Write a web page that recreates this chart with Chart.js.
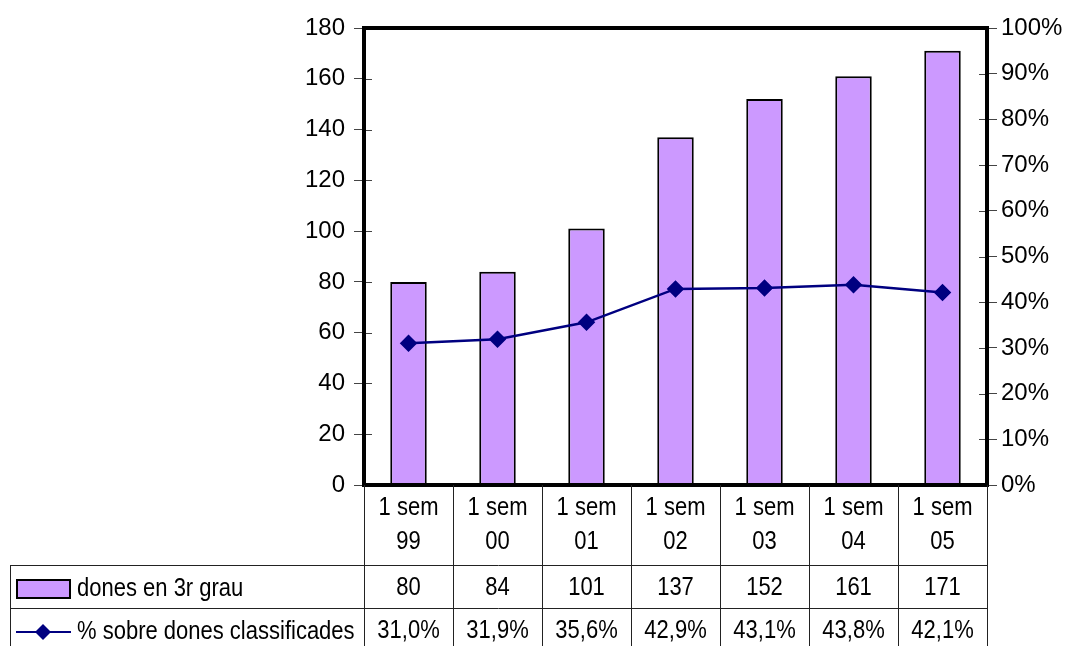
<!DOCTYPE html>
<html>
<head>
<meta charset="utf-8">
<script src="https://cdn.jsdelivr.net/npm/chart.js@4"></script>
<style>
  body { margin: 0; background: #fff; }
</style>
</head>
<body>
<canvas id="chart" width="1065" height="646"></canvas>
<script>
// chart data
const categories = [['1 sem', '99'], ['1 sem', '00'], ['1 sem', '01'], ['1 sem', '02'], ['1 sem', '03'], ['1 sem', '04'], ['1 sem', '05']];
const donesValues = [80, 84, 101, 137, 152, 161, 171];
const percentValues = [31.0, 31.9, 35.6, 42.9, 43.1, 43.8, 42.1];
const seriesNames = ['dones en 3r grau', '% sobre dones classificades'];

const FONT = '"Liberation Sans Narrow", "Arial Narrow", "Liberation Sans", Arial, sans-serif';
const barColor = '#CC99FF';
const lineColor = '#000080';

function fmtPct(v) {
    return v.toFixed(1).replace('.', ',') + '%';
}

// narrow-ish text, the original uses a condensed face
function narrowText(ctx, txt, x, y) {
    ctx.save();
    ctx.translate(x, y);
    ctx.scale(0.88, 1);
    ctx.fillText(txt, 0, 0);
    ctx.restore();
}

// plot border + data table under the chart
const tablePlugin = {
    id: 'dataTable',
    afterDatasetsDraw(chart) {
        const ctx = chart.ctx;
        const area = chart.chartArea;
        const x = chart.scales.x;
        const colW = (area.right - area.left) / categories.length;
        const tableLeft = 10;
        const row1 = 565, row2 = 608, bottom = 646;

        ctx.save();
        // tick marks crossing into the plot
        ctx.strokeStyle = '#444';
        ctx.lineWidth = 1;
        ctx.beginPath();
        ['y', 'y1'].forEach(id => {
            const s = chart.scales[id];
            s.ticks.forEach(t => {
                const yy = Math.round(s.getPixelForValue(t.value)) + 0.5;
                if (id === 'y') {
                    ctx.moveTo(area.left, yy);
                    ctx.lineTo(area.left + 8, yy);
                } else {
                    ctx.moveTo(area.right - 8, yy);
                    ctx.lineTo(area.right, yy);
                }
            });
        });
        ctx.stroke();

        // plot frame
        ctx.strokeStyle = '#000';
        ctx.lineWidth = 4;
        ctx.strokeRect(area.left, area.top, area.right - area.left, area.bottom - area.top);

        // table grid
        ctx.lineWidth = 1;
        ctx.strokeStyle = '#222';
        ctx.beginPath();
        for (let i = 0; i <= categories.length; i++) {
            const xx = Math.round(area.left + i * colW) + 0.5;
            ctx.moveTo(xx, area.bottom);
            ctx.lineTo(xx, bottom);
        }
        ctx.moveTo(tableLeft + 0.5, row1);
        ctx.lineTo(tableLeft + 0.5, bottom);
        ctx.moveTo(tableLeft, row1 + 0.5);
        ctx.lineTo(area.right, row1 + 0.5);
        ctx.moveTo(tableLeft, row2 + 0.5);
        ctx.lineTo(area.right, row2 + 0.5);
        ctx.stroke();

        // texts
        ctx.fillStyle = '#000';
        ctx.font = '25px ' + FONT;
        ctx.textAlign = 'center';
        ctx.textBaseline = 'middle';
        categories.forEach((lab, i) => {
            const cx = x.getPixelForValue(i);
            narrowText(ctx, lab[0], cx, 508);
            narrowText(ctx, lab[1], cx, 542);
            narrowText(ctx, String(donesValues[i]), cx, 588);
            narrowText(ctx, fmtPct(percentValues[i]), cx, 631);
        });

        // legend keys
        ctx.fillStyle = barColor;
        ctx.fillRect(17, 580, 53, 18);
        ctx.lineWidth = 2;
        ctx.strokeStyle = '#000';
        ctx.strokeRect(17, 580, 53, 18);

        ctx.strokeStyle = lineColor;
        ctx.lineWidth = 2;
        ctx.beginPath();
        ctx.moveTo(16, 632);
        ctx.lineTo(71, 632);
        ctx.stroke();
        ctx.fillStyle = lineColor;
        ctx.beginPath();
        ctx.moveTo(43, 624);
        ctx.lineTo(51, 632);
        ctx.lineTo(43, 640);
        ctx.lineTo(35, 632);
        ctx.closePath();
        ctx.fill();

        ctx.fillStyle = '#000';
        ctx.textAlign = 'left';
        narrowText(ctx, seriesNames[0], 77, 589);
        narrowText(ctx, seriesNames[1], 77, 632);
        ctx.restore();
    }
};

const ctx = document.getElementById('chart').getContext('2d');
new Chart(ctx, {
    data: {
        labels: categories.map(c => c.join(' ')),
        datasets: [
            {
                type: 'line',
                label: seriesNames[1],
                data: percentValues,
                yAxisID: 'y1',
                borderColor: lineColor,
                backgroundColor: lineColor,
                borderWidth: 2.5,
                pointStyle: 'rectRot',
                pointRadius: 7,
                pointBackgroundColor: lineColor,
                pointBorderColor: lineColor,
                tension: 0,
                order: 0
            },
            {
                type: 'bar',
                label: seriesNames[0],
                data: donesValues,
                yAxisID: 'y',
                backgroundColor: barColor,
                borderColor: '#000',
                borderWidth: 2,
                barPercentage: 0.41,
                categoryPercentage: 1,
                order: 1
            }
        ]
    },
    options: {
        responsive: false,
        animation: false,
        layout: {
            padding: { left: 300, right: 0, top: 28, bottom: 161 }
        },
        plugins: {
            legend: { display: false },
            tooltip: { enabled: false }
        },
        scales: {
            x: {
                display: false
            },
            y: {
                position: 'left',
                min: 0,
                max: 180,
                afterFit: s => { s.width = 64; },
                ticks: {
                    stepSize: 20,
                    color: '#000',
                    padding: 9,
                    font: { family: FONT, size: 24 }
                },
                grid: {
                    drawOnChartArea: false,
                    color: '#444',
                    tickLength: 10
                },
                border: { display: false }
            },
            y1: {
                position: 'right',
                min: 0,
                max: 100,
                afterFit: s => { s.width = 78; },
                ticks: {
                    stepSize: 10,
                    color: '#000',
                    padding: 4,
                    font: { family: FONT, size: 24 },
                    callback: v => v + '%'
                },
                grid: {
                    drawOnChartArea: false,
                    color: '#444',
                    tickLength: 10
                },
                border: { display: false }
            }
        }
    },
    plugins: [tablePlugin]
});
</script>
</body>
</html>
